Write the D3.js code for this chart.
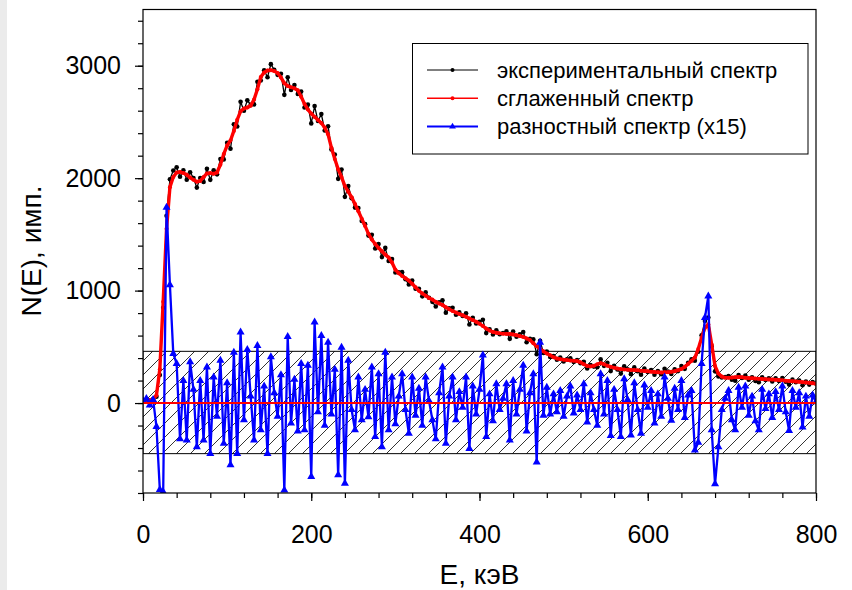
<!DOCTYPE html>
<html><head><meta charset="utf-8">
<script src="https://cdn.jsdelivr.net/npm/d3@7"></script>
<style>
body{margin:0;background:#fff;}
text{font-family:"Liberation Sans",Arial,sans-serif;fill:#000;}
</style>
</head><body>
<svg id="c" width="852" height="590"></svg>
<script>
// ---- data (E grid step 4 keV, 0..800) ----
const energies = d3.range(0, 801, 4);
const experimental = [
22,27,23,36,56,249,847,1666,1990,2068,2096,2013,2071,1986,2053,2001,1916,2001,1966,2084,
1985,2070,2034,2170,2167,2314,2261,2480,2460,2679,2600,2692,2653,2656,2858,2868,2960,2898,3014,2964,
2919,2929,2741,2898,2784,2828,2748,2771,2628,2654,2487,2641,2508,2570,2424,2462,2256,2210,1994,2076,
1834,1930,1822,1738,1735,1620,1591,1489,1497,1375,1414,1298,1380,1263,1280,1161,1163,1164,1102,1054,
1090,1016,1016,949,985,937,900,858,897,914,804,843,848,785,806,774,798,698,758,708,
722,741,622,655,610,647,612,623,637,571,636,589,612,632,541,572,566,435,554,446,
458,410,418,386,404,370,390,399,365,383,354,367,308,338,324,319,389,331,358,284,
331,299,262,327,301,257,317,283,252,307,276,293,252,284,256,304,281,258,301,284,
329,304,358,389,377,457,603,730,760,504,282,236,227,232,239,207,198,250,223,245,
208,228,196,185,230,206,220,191,221,197,222,189,164,208,186,201,158,191,164,186,174];
const smoothed = [
20,21,25,32,70,300,900,1550,1920,2010,2050,2055,2045,2030,2005,1985,1968,1975,2010,2042,
2045,2040,2050,2120,2215,2290,2335,2420,2520,2595,2620,2628,2645,2700,2790,2900,2940,2958,2960,2952,
2935,2895,2845,2820,2808,2800,2782,2725,2660,2610,2575,2545,2518,2490,2450,2390,2270,2170,2080,2010,
1930,1880,1830,1770,1705,1640,1575,1505,1455,1415,1380,1350,1320,1295,1250,1185,1155,1130,1110,1090,
1060,1030,998,975,955,935,920,900,885,872,852,835,818,805,792,780,768,752,738,722,
706,685,662,645,632,625,620,617,615,615,610,603,596,588,575,560,532,505,482,460,
440,424,408,396,390,386,382,379,377,373,362,345,330,326,332,345,355,345,332,322,
315,307,302,299,297,295,293,291,288,285,282,279,276,274,272,274,275,278,283,292,
303,322,348,375,405,480,580,670,700,520,330,262,235,226,225,227,230,232,229,225,
222,220,218,217,214,212,210,209,207,205,202,199,196,194,192,189,186,183,180,176,172];
const difference = [
20,40,-20,30,-210,-770,-790,1740,1050,440,350,-320,200,-330,365,120,-390,200,-330,320,
-450,230,-120,380,-360,180,-550,450,-450,630,-150,475,60,-330,510,-240,150,-450,410,90,
-120,250,-775,590,-180,210,-250,350,-240,335,-655,720,-80,600,-200,540,-100,300,-640,495,
-715,380,-60,-240,230,-150,120,-124,320,-300,260,-390,450,-240,230,-185,60,260,-60,-270,
230,-110,130,-200,230,20,-150,-320,90,320,-360,60,230,-150,100,-40,230,-405,150,-100,
120,425,-300,80,-160,170,-60,40,170,-330,200,-100,120,335,-250,90,260,-525,540,-110,
140,-100,80,-80,110,-120,60,150,-90,70,-60,170,-170,90,-60,-200,260,-100,200,-290,
120,-60,-300,215,30,-285,180,-60,-270,160,-40,110,-180,80,-120,230,40,-155,130,-60,
200,-130,70,110,-420,-350,350,760,950,-240,-720,-390,-60,40,110,-150,-240,140,-40,150,
-110,60,-160,-240,120,-50,80,-130,100,-60,150,-80,-245,110,-40,90,-215,60,-120,70,10];
const xMajor = [0, 200, 400, 600, 800];
const yMajor = [0, 1000, 2000, 3000];
const band = [-450, 460];
const legendLabels = ["экспериментальный спектр", "сглаженный спектр", "разностный спектр (x15)"];
const xTitle = "E, кэВ";
const yTitle = "N(E), имп.";

// ---- drawing ----
const svg = d3.select("#c");
const L = 143, R = 816, T = 9.5, B = 493;
const x = d3.scaleLinear().domain([0, 800]).range([L, R]);
const y = d3.scaleLinear().domain([-800, 3500]).range([B, T]);

svg.append("rect").attr("x",0).attr("y",0).attr("width",852).attr("height",590).attr("fill","#fff");
svg.append("rect").attr("x",0).attr("y",0).attr("width",7).attr("height",590).attr("fill","#ebebeb");

const defs = svg.append("defs");
defs.append("clipPath").attr("id","clip").append("rect")
  .attr("x",L).attr("y",T).attr("width",R-L).attr("height",B-T);
const pat = defs.append("pattern").attr("id","hatch").attr("patternUnits","userSpaceOnUse")
  .attr("width",14).attr("height",14);
pat.append("path").attr("d","M-2,16 L16,-2 M-9,9 L9,-9 M5,23 L23,5")
  .attr("stroke","#000").attr("stroke-width",0.8);

const g = svg.append("g").attr("clip-path","url(#clip)");

// hatched band
g.append("rect")
  .attr("x", x(0)).attr("y", y(band[1]))
  .attr("width", x(800)-x(0)).attr("height", y(band[0])-y(band[1]))
  .attr("fill","url(#hatch)").attr("stroke","#000").attr("stroke-width",1);

const idx = d3.range(energies.length);
const lineOf = arr => d3.line().x(i => x(energies[i])).y(i => y(arr[i]));

// experimental
g.append("path").datum(idx).attr("d", lineOf(experimental))
  .attr("fill","none").attr("stroke","#000").attr("stroke-width",1.3);
g.selectAll(".ed").data(idx).join("circle")
  .attr("cx", i => x(energies[i])).attr("cy", i => y(experimental[i]))
  .attr("r", 2.3).attr("fill","#000");

// smoothed
g.append("path").datum(idx).attr("d", lineOf(smoothed))
  .attr("fill","none").attr("stroke","#ff0000").attr("stroke-width",3.4);
g.selectAll(".sd").data(idx).join("circle")
  .attr("cx", i => x(energies[i])).attr("cy", i => y(smoothed[i]))
  .attr("r", 2).attr("fill","#ff0000");

// difference
g.append("path").datum(idx).attr("d", lineOf(difference))
  .attr("fill","none").attr("stroke","#0000ff").attr("stroke-width",2.3);
const tri = d3.symbol().type(d3.symbolTriangle).size(28);
g.selectAll(".dd").data(idx).join("path")
  .attr("transform", i => `translate(${x(energies[i])},${y(difference[i])})`)
  .attr("d", tri).attr("fill","#0000ff");

// zero line
g.append("line").attr("x1",x(0)).attr("x2",x(800)).attr("y1",y(0)).attr("y2",y(0))
  .attr("stroke","#ff0000").attr("stroke-width",2);

// frame
svg.append("rect").attr("x",L).attr("y",T).attr("width",R-L).attr("height",B-T)
  .attr("fill","none").attr("stroke","#000").attr("stroke-width",1.2);

// axes
const fontSize = 25;
const xAxisMinor = d3.axisBottom(x).tickValues(d3.range(0, 801, 40)).tickSize(5).tickFormat("");
const xAxisMajor = d3.axisBottom(x).tickValues(xMajor).tickSize(8).tickPadding(24).tickFormat(d3.format("d"));
const yAxisMinor = d3.axisLeft(y).tickValues(d3.range(-800, 3401, 200)).tickSize(5).tickFormat("");
const yAxisMajor = d3.axisLeft(y).tickValues(yMajor).tickSize(8).tickPadding(14).tickFormat(d3.format("d"));

function styleAxis(sel){
  sel.select(".domain").remove();
  sel.selectAll("line").attr("stroke","#000").attr("stroke-width",1.2);
  sel.selectAll("text").attr("font-size",fontSize).attr("font-family","Liberation Sans, Arial, sans-serif").attr("fill","#000");
}
svg.append("g").attr("transform",`translate(0,${B})`).call(xAxisMinor).call(styleAxis);
const xa = svg.append("g").attr("transform",`translate(0,${B})`).call(xAxisMajor).call(styleAxis);
xa.selectAll("text").attr("dy","0.71em");
svg.append("g").attr("transform",`translate(${L},0)`).call(yAxisMinor).call(styleAxis);
const ya = svg.append("g").attr("transform",`translate(${L},0)`).call(yAxisMajor).call(styleAxis);

// axis titles
svg.append("text").attr("x", (L+R)/2).attr("y", 584).attr("text-anchor","middle")
  .attr("font-size",28).text(xTitle);
svg.append("text").attr("transform",`translate(41,251) rotate(-90)`).attr("text-anchor","middle")
  .attr("font-size",28).text(yTitle);

// legend
const lg = svg.append("g");
lg.append("rect").attr("x",412.5).attr("y",43.5).attr("width",395.5).attr("height",110.5)
  .attr("fill","#fff").attr("stroke","#000").attr("stroke-width",1);
const legendColors = ["#000","#ff0000","#0000ff"];
const legendWidths = [1,1.5,2];
legendLabels.forEach((lab, k) => {
  const cy = 70 + k*28.3;
  lg.append("line").attr("x1",427).attr("x2",478).attr("y1",cy).attr("y2",cy)
    .attr("stroke",legendColors[k]).attr("stroke-width",legendWidths[k]);
  if (k < 2) lg.append("circle").attr("cx",452.5).attr("cy",cy).attr("r",2).attr("fill",legendColors[k]);
  else lg.append("path").attr("transform",`translate(452.5,${cy})`).attr("d",d3.symbol().type(d3.symbolTriangle).size(20)).attr("fill",legendColors[k]);
  lg.append("text").attr("x",497).attr("y",cy).attr("dy","0.35em").attr("font-size",22).text(lab);
});
</script>
</body></html>
